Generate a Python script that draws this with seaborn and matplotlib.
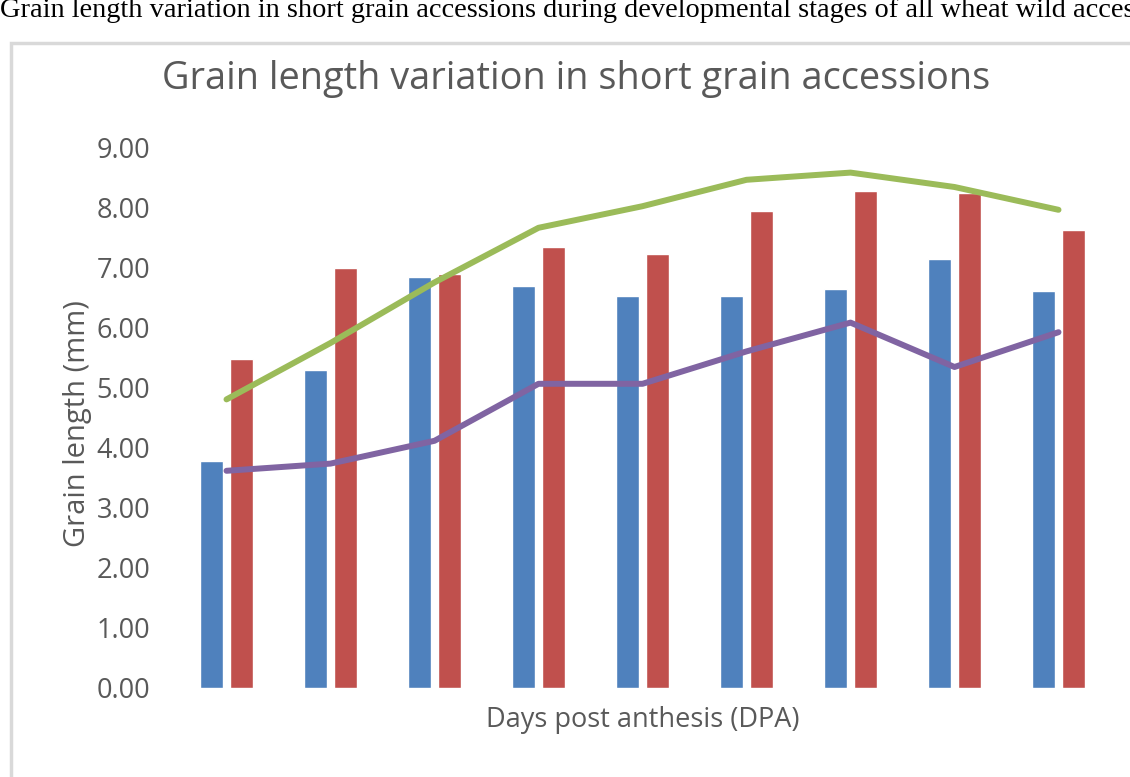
import numpy as np
import pandas as pd
import seaborn as sns
import matplotlib.pyplot as plt
from matplotlib.patches import Rectangle

# values
stages = ['1', '2', '3', '4', '5', '6', '7', '8', '9']
blue_bars = [3.78, 5.30, 6.85, 6.70, 6.53, 6.53, 6.65, 7.15, 6.62]
red_bars = [5.48, 7.00, 6.90, 7.35, 7.23, 7.95, 8.28, 8.25, 7.63]
green_line = [4.81, 5.75, 6.76, 7.67, 8.03, 8.47, 8.59, 8.35, 7.97]
purple_line = [3.62, 3.74, 4.12, 5.07, 5.07, 5.61, 6.09, 5.35, 5.93]
yticks = [0, 1, 2, 3, 4, 5, 6, 7, 8, 9]

colors = {'blue': '#4F81BD', 'red': '#C0504D', 'green': '#9BBB59', 'purple': '#8064A2'}

sns.set_style('white')
plt.rcParams['font.family'] = ['Open Sans', 'DejaVu Sans']

df = pd.DataFrame({
    'stage': stages * 2,
    'length': blue_bars + red_bars,
    'series': ['blue'] * len(stages) + ['red'] * len(stages),
})

fig = plt.figure(figsize=(11.3, 7.77), dpi=100)
ax = fig.add_axes([174.5 / 1130, 1 - 688 / 777, 936 / 1130, 540 / 777])

sns.barplot(data=df, x='stage', y='length', hue='series', palette=colors,
            width=0.587, gap=0.247, ax=ax, legend=False, saturation=1)

x = np.arange(len(stages))
sns.lineplot(x=x, y=green_line, color=colors['green'], linewidth=4.3, ax=ax)
sns.lineplot(x=x, y=purple_line, color=colors['purple'], linewidth=4.3, ax=ax)

ax.set_xlim(-0.5, 8.5)
ax.set_ylim(0, 9)
ax.set_yticks(yticks)
ax.set_yticklabels([f'{v:.2f}' for v in yticks], fontsize=19.5, color='#595959')
ax.set_xticks([])
ax.tick_params(axis='y', length=0, pad=17.5)
for s in ax.spines.values():
    s.set_visible(False)

ax.set_xlabel('Days post anthesis (DPA)', fontsize=19.5, color='#595959', labelpad=13)
ax.set_ylabel('Grain length (mm)', fontsize=21, color='#595959')
ax.yaxis.set_label_coords(-0.088, 0.49)

fig.text(576 / 1130, 1 - 89 / 777, 'Grain length variation in short grain accessions',
         ha='center', va='baseline', fontsize=27.3, color='#595959')

# chart border
fig.patches.append(Rectangle((11 / 1130, -0.05), 1.1, 1 - 43 / 777 + 0.05,
                             transform=fig.transFigure, fill=False,
                             edgecolor='#d9d9d9', linewidth=2.5, clip_on=False))

# caption of the source figure, cropped at the top and right as in the reference
fig.text(0.0, 1 - 17 / 777,
         'Grain length variation in short grain accessions during developmental stages of all wheat wild accessions',
         ha='left', va='baseline', fontsize=20.4, family=['Liberation Serif'], color='black')

fig.savefig('out.png', dpi=100)
